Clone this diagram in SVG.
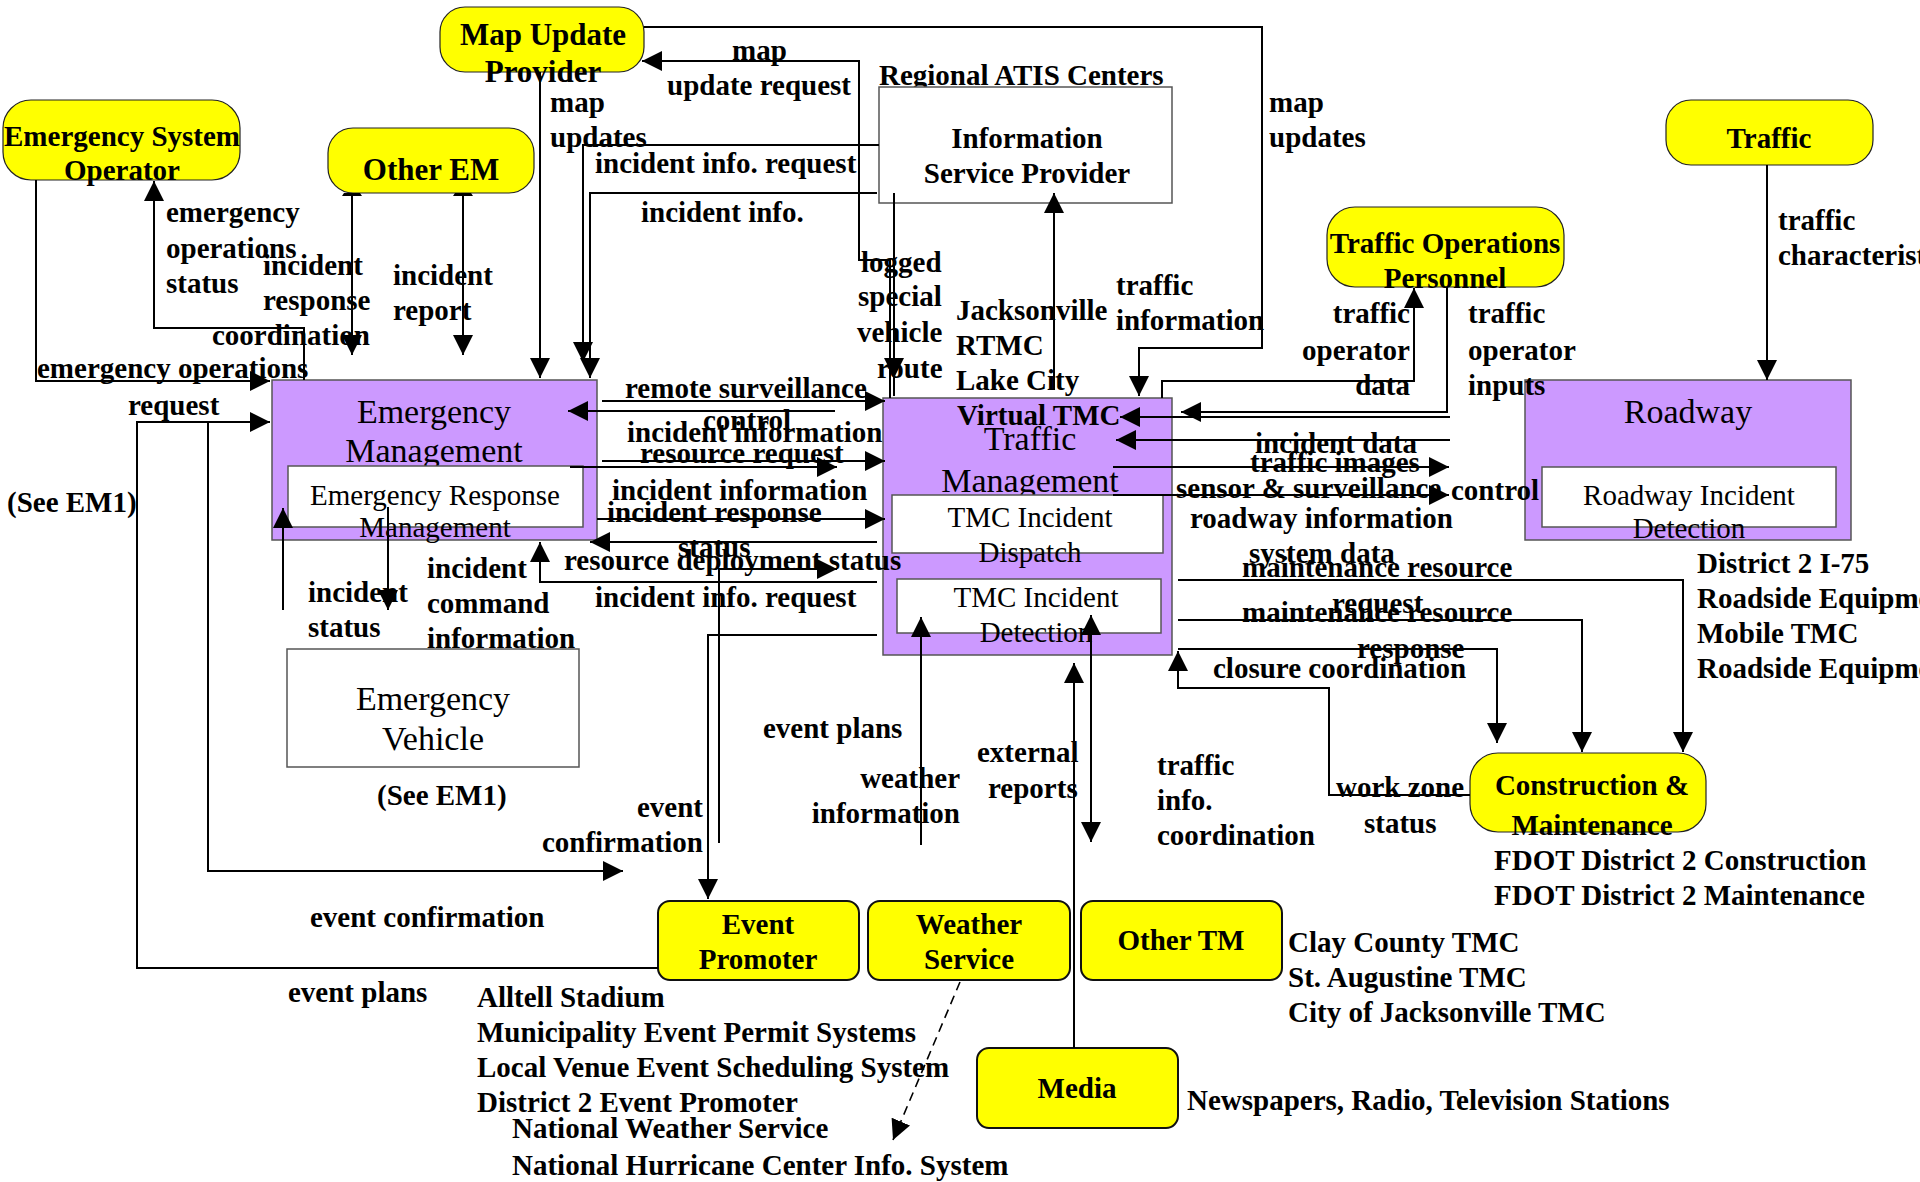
<svg xmlns="http://www.w3.org/2000/svg" width="1920" height="1182" viewBox="0 0 1920 1182">
<defs>
<style>
.t{font-family:"Liberation Serif","Times New Roman",serif;font-weight:bold;font-size:29px;fill:#000}
.m{text-anchor:middle}
.e{text-anchor:end}
.big{font-family:"Liberation Serif","Times New Roman",serif;font-size:34px;text-anchor:middle;fill:#000}
.sm{font-family:"Liberation Serif","Times New Roman",serif;font-size:29px;text-anchor:middle;fill:#000}
.yl{fill:#ffff00;stroke:#222;stroke-width:1.2}
.yb{fill:#ffff00;stroke:#111;stroke-width:2}
.pu{fill:#cc99ff;stroke:#555;stroke-width:1.5}
.wb{fill:#fff;stroke:#555;stroke-width:1.5}
.c{fill:none;stroke:#000;stroke-width:2;marker-end:url(#ah)}
.n{fill:none;stroke:#000;stroke-width:2}
</style>
<marker id="ah" viewBox="0 0 20 20" refX="20" refY="10" markerWidth="20" markerHeight="20" markerUnits="userSpaceOnUse" orient="auto"><path d="M0,0 L20,10 L0,20 z" fill="#000"/></marker>
<marker id="as" viewBox="0 0 20 20" refX="20" refY="10" markerWidth="20" markerHeight="20" markerUnits="userSpaceOnUse" orient="auto-start-reverse"><path d="M0,0 L20,10 L0,20 z" fill="#000"/></marker>
</defs>
<rect width="1920" height="1182" fill="#fff"/>

<g id="eso"><rect class="yl" x="3" y="100" width="237" height="80" rx="28"/><text class="t m" x="122" y="146">Emergency System</text><text class="t m" x="122" y="180">Operator</text></g>
<g id="other-em"><rect class="yl" x="328" y="128" width="206" height="65" rx="25"/><text class="t m" x="431" y="180" style="font-size:31px">Other EM</text></g>
<g id="map-update"><rect class="yl" x="440" y="7" width="204" height="65" rx="25"/><text class="t m" x="543" y="45" style="font-size:31px">Map Update</text><text class="t m" x="543" y="82" style="font-size:31px">Provider</text></g>
<g id="isp"><text class="t" x="879" y="85">Regional ATIS Centers</text><rect class="wb" x="879" y="87" width="293" height="116"/><text class="t m" x="1027" y="148">Information</text><text class="t m" x="1027" y="183">Service Provider</text></g>
<g id="top"><rect class="yl" x="1327" y="207" width="237" height="80" rx="28"/><text class="t m" x="1445" y="253">Traffic Operations</text><text class="t m" x="1445" y="288">Personnel</text></g>
<g id="traffic"><rect class="yl" x="1666" y="100" width="207" height="65" rx="25"/><text class="t m" x="1769" y="148">Traffic</text></g>
<g id="em"><rect class="pu" x="272" y="380" width="325" height="160"/><text class="big" x="434" y="423">Emergency</text><text class="big" x="434" y="462">Management</text><rect class="wb" x="288" y="466" width="295" height="61"/><text class="sm" x="435" y="505">Emergency Response</text><text class="sm" x="435" y="537">Management</text></g>
<g id="tm"><rect class="pu" x="883" y="398" width="289" height="257"/><text class="big" x="1030" y="450">Traffic</text><text class="big" x="1030" y="492">Management</text><text class="t" x="957" y="425">Virtual TMC</text><rect class="wb" x="892" y="495" width="271" height="58"/><text class="sm" x="1030" y="527">TMC Incident</text><text class="sm" x="1030" y="562">Dispatch</text><rect class="wb" x="897" y="579" width="264" height="54"/><text class="sm" x="1036" y="607">TMC Incident</text><text class="sm" x="1036" y="642">Detection</text></g>
<g id="roadway"><rect class="pu" x="1525" y="380" width="326" height="160"/><text class="big" x="1688" y="423">Roadway</text><rect class="wb" x="1542" y="467" width="294" height="60"/><text class="sm" x="1689" y="505">Roadway Incident</text><text class="sm" x="1689" y="538">Detection</text></g>
<g id="ev"><rect class="wb" x="287" y="649" width="292" height="118"/><text class="big" x="433" y="710">Emergency</text><text class="big" x="433" y="750">Vehicle</text></g>
<g id="cm"><rect class="yl" x="1470" y="753" width="236" height="79" rx="28"/><text class="t m" x="1592" y="795">Construction &amp;</text><text class="t m" x="1592" y="835">Maintenance</text></g>
<g id="event-promoter"><rect class="yb" x="658" y="901" width="201" height="79" rx="12"/><text class="t m" x="758" y="934">Event</text><text class="t m" x="758" y="969">Promoter</text></g>
<g id="weather"><rect class="yb" x="868" y="901" width="202" height="79" rx="12"/><text class="t m" x="969" y="934">Weather</text><text class="t m" x="969" y="969">Service</text></g>
<g id="other-tm"><rect class="yb" x="1081" y="901" width="201" height="79" rx="12"/><text class="t m" x="1181" y="950">Other TM</text></g>
<g id="media"><rect class="yb" x="977" y="1048" width="201" height="80" rx="12"/><text class="t m" x="1077" y="1098">Media</text></g>

<g id="connectors">
<path class="c" d="M36,180 V381 H270"/>
<path class="c" d="M304,380 V328 H154 V181"/>
<path class="c" d="M352,194 V355"/><path d="M342,196 H362 L360,193 H344 z"/>
<path class="c" d="M463,194 V355"/><path d="M453,196 H473 L471,193 H455 z"/>
<path class="c" d="M540,72 V378"/>
<path class="c" d="M879,145 H583 V362"/>
<path class="c" d="M877,193 H590 V378"/>
<path class="c" d="M890,398 V260 H859 V61 H642"/>
<path class="c" d="M894,193 V378"/><path class="n" d="M894,378 V396"/>
<path class="c" d="M1054,390 V193"/>
<path class="c" d="M644,27 H1262 V348 H1139 V396"/>
<path class="c" d="M1162,398 V381 H1414 V288"/>
<path class="c" d="M1447,287 V412 H1181"/>
<path class="c" d="M1450,417 H1120"/>
<path class="c" d="M1450,440 H1116"/>
<path class="c" d="M1113,467 H1449"/>
<path class="c" d="M1113,495 H1449"/>
<path class="c" d="M1767,165 V380"/>
<path class="c" d="M1178,580 H1683 V752"/>
<path class="c" d="M1178,620 H1582 V752"/>
<path class="c" d="M1178,649 H1497 V743"/>
<path class="c" d="M1470,795 H1329 V688 H1178 V651"/>
<path class="c" d="M602,401 H885"/>
<path class="c" d="M835,411 H568"/>
<path class="c" d="M602,461 H885"/>
<path class="c" d="M570,467 H837"/>
<path class="c" d="M597,519 H885"/>
<path class="c" d="M877,542 H590"/>
<path class="c" d="M719,843 V569 H837"/>
<path class="c" d="M877,582 H540 V542"/>
<path class="c" d="M877,635 H708 V899"/>
<path class="c" d="M658,968 H137 V422 H270"/>
<path class="c" d="M208,422 V871 H623"/>
<path class="c" d="M283,610 V508"/>
<path class="c" d="M388,507 V610"/>
<path class="c" d="M921,845 V617"/>
<path class="c" d="M1091,615 V842" style="marker-start:url(#as)"/>
<path class="c" d="M1074,1048 V663"/>
<path class="c" d="M960,982 L893,1140" style="stroke-dasharray:9,6;stroke-width:1.6"/>

<text class="t" x="166" y="222">emergency</text><text class="t" x="166" y="258">operations</text><text class="t" x="166" y="293">status</text>
<text class="t" x="263" y="275">incident</text><text class="t" x="263" y="310">response</text><text class="t" x="212" y="345">coordination</text>
<text class="t" x="393" y="285">incident</text><text class="t" x="393" y="320">report</text>
<text class="t" x="37" y="378">emergency operations</text><text class="t" x="128" y="415">request</text>
<text class="t" x="550" y="112">map</text><text class="t" x="550" y="147">updates</text>
<text class="t" x="732" y="60">map</text><text class="t" x="667" y="95">update request</text>
<text class="t" x="595" y="173">incident info. request</text>
<text class="t" x="641" y="222">incident info.</text>
<text class="t" x="861" y="272">logged</text><text class="t" x="858" y="306">special</text><text class="t" x="857" y="342">vehicle</text><text class="t" x="877" y="378">route</text>
<text class="t" x="956" y="320">Jacksonville</text><text class="t" x="956" y="355">RTMC</text><text class="t" x="956" y="390">Lake City</text>
<text class="t" x="1116" y="295">traffic</text><text class="t" x="1116" y="330">information</text>
<text class="t" x="1269" y="112">map</text><text class="t" x="1269" y="147">updates</text>
<text class="t e" x="1410" y="323">traffic</text><text class="t e" x="1410" y="360">operator</text><text class="t e" x="1410" y="395">data</text>
<text class="t" x="1468" y="323">traffic</text><text class="t" x="1468" y="360">operator</text><text class="t" x="1468" y="395">inputs</text>
<text class="t" x="1778" y="230">traffic</text><text class="t" x="1778" y="265">characteristics</text>
<text class="t" x="625" y="398">remote surveillance</text><text class="t" x="703" y="430">control</text>
<text class="t" x="627" y="442">incident information</text>
<text class="t" x="640" y="463">resource request</text>
<text class="t" x="612" y="500">incident information</text>
<text class="t" x="607" y="522">incident response</text>
<text class="t" x="678" y="557">status</text>
<text class="t" x="564" y="570">resource deployment status</text>
<text class="t" x="595" y="607">incident info. request</text>
<text class="t" x="763" y="738">event plans</text>
<text class="t" x="1255" y="453">incident data</text>
<text class="t" x="1250" y="472">traffic images</text>
<text class="t" x="1176" y="498">sensor &amp; surveillance</text><text class="t" x="1451" y="500">control</text>
<text class="t" x="1190" y="528">roadway information</text>
<text class="t" x="1249" y="563">system data</text>
<text class="t" x="1242" y="577">maintenance resource</text>
<text class="t" x="1332" y="613">request</text>
<text class="t" x="1242" y="622">maintenance resource</text>
<text class="t" x="1357" y="658">response</text>
<text class="t" x="1213" y="678">closure coordination</text>
<text class="t" x="1336" y="797">work zone</text><text class="t" x="1364" y="833">status</text>
<text class="t" x="1697" y="573">District 2 I-75</text><text class="t" x="1697" y="608">Roadside Equipment</text><text class="t" x="1697" y="643">Mobile TMC</text><text class="t" x="1697" y="678">Roadside Equipment</text>
<text class="t" x="1494" y="870">FDOT District 2 Construction</text><text class="t" x="1494" y="905">FDOT District 2 Maintenance</text>
<text class="t" x="308" y="602">incident</text><text class="t" x="308" y="637">status</text>
<text class="t" x="427" y="578">incident</text><text class="t" x="427" y="613">command</text><text class="t" x="427" y="648">information</text>
<text class="t" x="7" y="512">(See EM1)</text><text class="t" x="377" y="805">(See EM1)</text>
<text class="t" x="977" y="762">external</text><text class="t" x="988" y="798">reports</text>
<text class="t e" x="960" y="788">weather</text><text class="t e" x="960" y="823">information</text>
<text class="t" x="1157" y="775">traffic</text><text class="t" x="1157" y="810">info.</text><text class="t" x="1157" y="845">coordination</text>
<text class="t e" x="703" y="817">event</text><text class="t e" x="703" y="852">confirmation</text>
<text class="t" x="310" y="927">event confirmation</text>
<text class="t" x="288" y="1002">event plans</text>
<text class="t" x="477" y="1007">Alltell Stadium</text><text class="t" x="477" y="1042">Municipality Event Permit Systems</text><text class="t" x="477" y="1077">Local Venue Event Scheduling System</text><text class="t" x="477" y="1112">District 2 Event Promoter</text>
<text class="t" x="512" y="1138">National Weather Service</text><text class="t" x="512" y="1175">National Hurricane Center Info. System</text>
<text class="t" x="1288" y="952">Clay County TMC</text><text class="t" x="1288" y="987">St. Augustine TMC</text><text class="t" x="1288" y="1022">City of Jacksonville TMC</text>
<text class="t" x="1187" y="1110">Newspapers, Radio, Television Stations</text>
</g>
</svg>
